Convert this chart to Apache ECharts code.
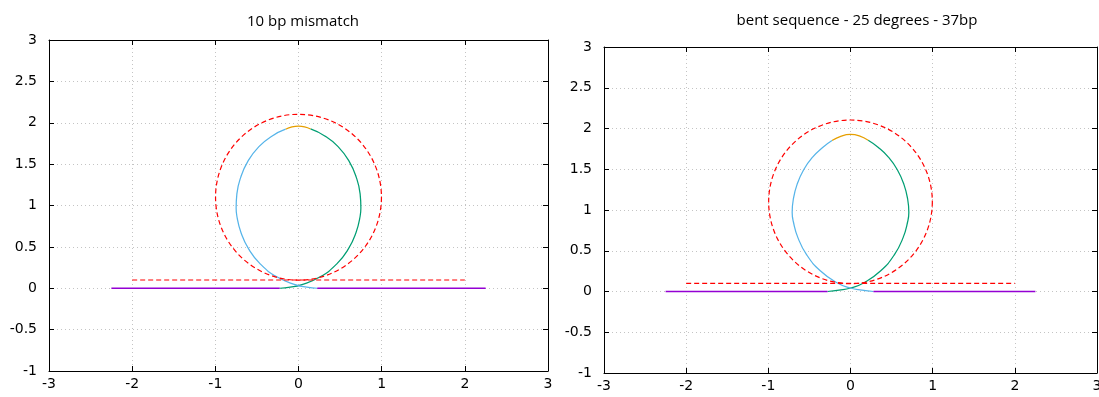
<!DOCTYPE html>
<html>
<head>
<meta charset="utf-8">
<script src="https://cdn.jsdelivr.net/npm/echarts@6/dist/echarts.min.js"></script>
<style>
  html, body { margin: 0; padding: 0; background: #fff; overflow: hidden; }
  #chart { width: 1099px; height: 397px; }
</style>
</head>
<body>
<div id="chart"></div>
<script>
// Panel titles
const titles = ['10 bp mismatch', 'bent sequence - 25 degrees - 37bp'];

// Axis ranges and tick steps shared by both panels
const xRange = [-3, 3];
const yRange = [-1, 3];
const xStep = 1;
const yStep = 0.5;

// --- Panel 1: 10 bp mismatch ---
const mmLeadIn  = [[-2.25, 0], [-0.226, 0]];
const mmRise    = [[-0.226, 0], [-0.1, 0.013], [0.031, 0.041], [0.261, 0.138], [0.458, 0.292], [0.598, 0.472],
                   [0.691, 0.671], [0.741, 0.87], [0.75, 0.97], [0.741, 1.14], [0.695, 1.34], [0.606, 1.539],
                   [0.476, 1.712], [0.316, 1.841], [0.145, 1.925]];
const mmApex    = [[0.145, 1.925], [0.073, 1.95], [0, 1.958], [-0.078, 1.949], [-0.155, 1.922]];
const mmFall    = [[-0.155, 1.922], [-0.316, 1.841], [-0.476, 1.712], [-0.606, 1.539], [-0.695, 1.34], [-0.741, 1.14],
                   [-0.75, 0.97], [-0.741, 0.87], [-0.691, 0.671], [-0.598, 0.472], [-0.458, 0.292], [-0.261, 0.138],
                   [-0.031, 0.041], [0.1, 0.013], [0.226, 0]];
const mmLeadOut = [[0.226, 0], [2.25, 0]];
const mmRefLine = [[-2, 0.1], [2, 0.1]];
const mmRefCircle = [[0, 1.1, 1]];   // centre x, centre y, radius

// --- Panel 2: bent sequence, 25 degrees, 37 bp ---
const bsLeadIn  = [[-2.25, 0], [-0.279, 0]];
const bsRise    = [[-0.279, 0], [-0.14, 0.016], [0.002, 0.043], [0.171, 0.111], [0.368, 0.254], [0.533, 0.45],
                   [0.639, 0.658], [0.696, 0.859], [0.71, 0.97], [0.696, 1.132], [0.651, 1.311], [0.57, 1.494],
                   [0.461, 1.649], [0.339, 1.767], [0.215, 1.855]];
const bsApex    = [[0.215, 1.855], [0.107, 1.909], [0, 1.927], [-0.112, 1.907], [-0.225, 1.852]];
const bsFall    = [[-0.225, 1.852], [-0.339, 1.767], [-0.461, 1.649], [-0.57, 1.494], [-0.651, 1.311], [-0.696, 1.132],
                   [-0.71, 0.97], [-0.696, 0.859], [-0.639, 0.658], [-0.533, 0.45], [-0.368, 0.254], [-0.171, 0.111],
                   [-0.002, 0.043], [0.14, 0.016], [0.279, 0]];
const bsLeadOut = [[0.279, 0], [2.25, 0]];
const bsRefLine = [[-2, 0.1], [2, 0.1]];
const bsRefCircle = [[0, 1.1, 1]];

const panels = [
  { leadIn: mmLeadIn, rise: mmRise, apex: mmApex, fall: mmFall, leadOut: mmLeadOut, refLine: mmRefLine, refCircle: mmRefCircle },
  { leadIn: bsLeadIn, rise: bsRise, apex: bsApex, fall: bsFall, leadOut: bsLeadOut, refLine: bsRefLine, refCircle: bsRefCircle }
];

const COLORS = { purple: '#9400d3', green: '#009e73', blue: '#56b4e9', orange: '#e69f00', red: '#ff0000' };
const tickFont = { fontFamily: 'DejaVu Sans', fontSize: 14, color: '#000' };
const titleFont = { fontFamily: 'Open Sans', fontSize: 15, fontWeight: 'normal', color: '#000' };

const grids = [
  { left: 49, right: 551, top: 40, bottom: 26, outerBoundsMode: 'none', containLabel: false },
  { left: 604, right: 2, top: 47, bottom: 24, outerBoundsMode: 'none', containLabel: false }
];

const gridLine = { show: true, lineStyle: { color: '#c4c4c4', type: [1, 3], width: 1 } };
const frameLine = { show: true, onZero: false, lineStyle: { color: '#000', width: 1 } };
const innerTick = { show: true, inside: true, length: 5, lineStyle: { color: '#000' } };

const xAxes = [], yAxes = [];
grids.forEach((g, i) => {
  xAxes.push({
    gridIndex: i, type: 'value', min: xRange[0], max: xRange[1], interval: xStep, position: 'bottom',
    axisLine: frameLine, axisTick: innerTick,
    axisLabel: Object.assign({ margin: 6, showMinLabel: true, showMaxLabel: true }, tickFont),
    splitLine: gridLine
  });
  xAxes.push({
    gridIndex: i, type: 'value', min: xRange[0], max: xRange[1], interval: xStep, position: 'top',
    axisLine: frameLine, axisTick: innerTick,
    axisLabel: { show: false }, splitLine: { show: false }
  });
  yAxes.push({
    gridIndex: i, type: 'value', min: yRange[0], max: yRange[1], interval: yStep, position: 'left',
    axisLine: frameLine, axisTick: innerTick,
    axisLabel: Object.assign({ margin: 12, showMinLabel: true, showMaxLabel: true }, tickFont),
    splitLine: gridLine
  });
  yAxes.push({
    gridIndex: i, type: 'value', min: yRange[0], max: yRange[1], interval: yStep, position: 'right',
    axisLine: frameLine, axisTick: innerTick,
    axisLabel: { show: false }, splitLine: { show: false }
  });
});

function lineSeries(data, color, axisIdx, extra) {
  return Object.assign({
    type: 'line', data: data, xAxisIndex: axisIdx, yAxisIndex: axisIdx,
    showSymbol: false, symbol: 'none', smooth: 0.5, silent: true, z: 3,
    itemStyle: { color: color },
    lineStyle: { color: color, width: 1.25 }
  }, extra || {});
}

const series = [];
panels.forEach((p, i) => {
  const ax = i * 2;
  const baseStyle = { color: COLORS.purple, width: 1.5 };
  series.push(lineSeries(p.leadIn, COLORS.purple, ax, { smooth: false, z: 5, lineStyle: baseStyle }));
  series.push(lineSeries(p.rise, COLORS.green, ax));
  series.push(lineSeries(p.apex, COLORS.orange, ax));
  series.push(lineSeries(p.fall, COLORS.blue, ax));
  series.push(lineSeries(p.leadOut, COLORS.purple, ax, { smooth: false, z: 5, lineStyle: baseStyle }));
  series.push(lineSeries(p.refLine, COLORS.red, ax, {
    smooth: false, z: 4, lineStyle: { color: COLORS.red, width: 1.2, type: [5, 3] }
  }));
  series.push({
    type: 'custom', xAxisIndex: ax, yAxisIndex: ax, data: p.refCircle, silent: true, z: 4,
    encode: { x: 0, y: 1 },
    renderItem: function (params, api) {
      const c = api.coord([api.value(0), api.value(1)]);
      const r = api.size([api.value(2), api.value(2)]);
      return {
        type: 'circle',
        shape: { cx: c[0], cy: c[1], r: (r[0] + r[1]) / 2 },
        style: { fill: null, stroke: COLORS.red, lineWidth: 1.2, lineDash: [5, 3] }
      };
    }
  });
});

const chart = echarts.init(document.getElementById('chart'), null, { renderer: 'canvas' });
chart.setOption({
  animation: false,
  backgroundColor: '#fff',
  title: [
    { text: titles[0], left: 298, top: 9, textAlign: 'center', textStyle: titleFont },
    { text: titles[1], left: 852, top: 8, textAlign: 'center', textStyle: titleFont }
  ],
  grid: grids,
  xAxis: xAxes,
  yAxis: yAxes,
  series: series
});
</script>
</body>
</html>
